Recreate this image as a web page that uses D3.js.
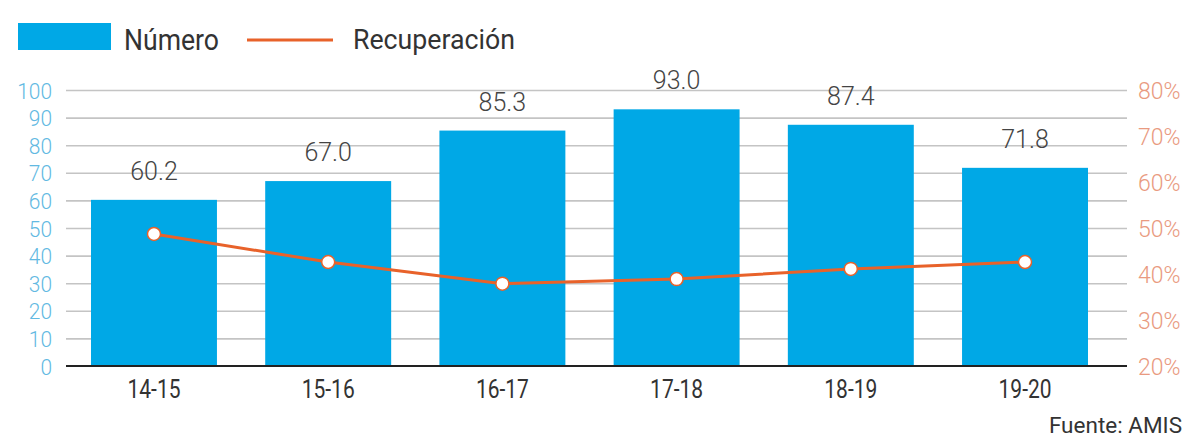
<!DOCTYPE html>
<html><head><meta charset="utf-8">
<script src="https://cdn.jsdelivr.net/npm/d3@7/dist/d3.min.js"></script>
<style>
html,body{margin:0;padding:0;background:#fff;}
svg{display:block;}
text{font-family:Roboto,"Noto Sans",sans-serif;}
</style></head>
<body>
<svg id="chart" width="1185" height="442"></svg>
<script>
const categories = ["14-15","15-16","16-17","17-18","18-19","19-20"];
const numero = [60.2, 67.0, 85.3, 93.0, 87.4, 71.8];
const recuperacion = [48.7, 42.6, 37.9, 38.9, 41.1, 42.6];
const leftTicks = [0,10,20,30,40,50,60,70,80,90,100];
const rightTicks = [20,30,40,50,60,70,80];

const svg = d3.select("#chart");
const x0 = 66, x1 = 1127, yTop = 90, yBot = 366;
const x = d3.scaleBand().domain(categories).range([x0, 1113]).paddingInner(0.277).paddingOuter(0.1435);
const yL = d3.scaleLinear().domain([0,100]).range([yBot, yTop]);
const yR = d3.scaleLinear().domain([20,80]).range([yBot, yTop]);

function squeeze(sel, f){
  sel.each(function(){ const w = this.getComputedTextLength(); d3.select(this).attr("textLength", w*f).attr("lengthAdjust","spacingAndGlyphs"); });
}

// grid
const grid = d3.axisLeft(yL).tickValues(leftTicks.slice(1)).tickSize(-(x1-x0)).tickFormat("");
svg.append("g").attr("transform",`translate(${x0},0)`).call(grid)
  .call(g=>g.select(".domain").remove())
  .call(g=>g.selectAll("line").attr("stroke","#c4c4c4").attr("stroke-width",1.6));

// left axis labels
const la = svg.append("g").attr("transform",`translate(52,0)`).call(d3.axisLeft(yL).tickValues(leftTicks).tickSize(0).tickPadding(0));
la.select(".domain").remove();
la.selectAll("text").attr("font-size",22.5).attr("fill","#62b9e2").attr("font-family","Roboto, sans-serif").attr("dy","0.36em").attr("font-weight",300);
squeeze(la.selectAll("text"), 0.93);

// right axis labels
const ra = svg.append("g").attr("transform",`translate(1138,0)`).call(d3.axisRight(yR).tickValues(rightTicks).tickSize(0).tickPadding(0).tickFormat(d=>d+"%"));
ra.select(".domain").remove();
ra.selectAll("text").attr("font-size",23).attr("fill","#e99a80").attr("font-family","Roboto, sans-serif").attr("dy","0.36em").attr("font-weight",300);

// bars
svg.append("g").selectAll("rect").data(numero).join("rect")
  .attr("x",(d,i)=>x(categories[i])).attr("width",x.bandwidth())
  .attr("y",d=>yL(d)).attr("height",d=>yBot-yL(d)).attr("fill","#00a8e6");

// baseline
svg.append("line").attr("x1",x0).attr("x2",x1).attr("y1",yBot).attr("y2",yBot).attr("stroke","#222").attr("stroke-width",2);

// value labels
svg.append("g").selectAll("text").data(numero).join("text")
  .attr("x",(d,i)=>x(categories[i])+x.bandwidth()/2).attr("y",d=>yL(d)-20)
  .attr("text-anchor","middle").attr("font-size",25).attr("fill","#444").attr("font-weight",300)
  .text(d=>d.toFixed(1));

// line
const cx = (d,i)=>x(categories[i])+x.bandwidth()/2;
const line = d3.line().x(cx).y(d=>yR(d));
svg.append("path").datum(recuperacion).attr("d",line).attr("fill","none").attr("stroke","#e8622a").attr("stroke-width",3);
svg.append("g").selectAll("circle").data(recuperacion).join("circle")
  .attr("cx",cx).attr("cy",d=>yR(d)).attr("r",6.5)
  .attr("fill","#fff").attr("stroke","#e8622a").attr("stroke-width",1.5);

// x labels
const xa = svg.append("g").attr("transform",`translate(0,${yBot})`).call(d3.axisBottom(x).tickSize(0).tickPadding(0));
xa.select(".domain").remove();
xa.selectAll("text").attr("font-size",25).attr("fill","#333").attr("dy","0").attr("y",32).attr("font-family","Roboto, sans-serif");
squeeze(xa.selectAll("text"), 0.84);

// legend
svg.append("rect").attr("x",18).attr("y",23).attr("width",93).attr("height",27).attr("fill","#00a8e6");
svg.append("text").attr("x",124).attr("y",50).attr("font-size",29).attr("fill","#333").attr("textLength",95).attr("lengthAdjust","spacingAndGlyphs").text("Número");
svg.append("line").attr("x1",247).attr("x2",333).attr("y1",40).attr("y2",40).attr("stroke","#e8622a").attr("stroke-width",3);
svg.append("text").attr("x",353).attr("y",48.5).attr("font-size",28).attr("fill","#333").attr("textLength",162).attr("lengthAdjust","spacingAndGlyphs").text("Recuperación");

// source
svg.append("text").attr("x",1182).attr("y",433).attr("text-anchor","end").attr("font-size",22.5).attr("fill","#333")
  .attr("font-family","'DejaVu Sans', sans-serif").text("Fuente: AMIS");
</script>
</body></html>
